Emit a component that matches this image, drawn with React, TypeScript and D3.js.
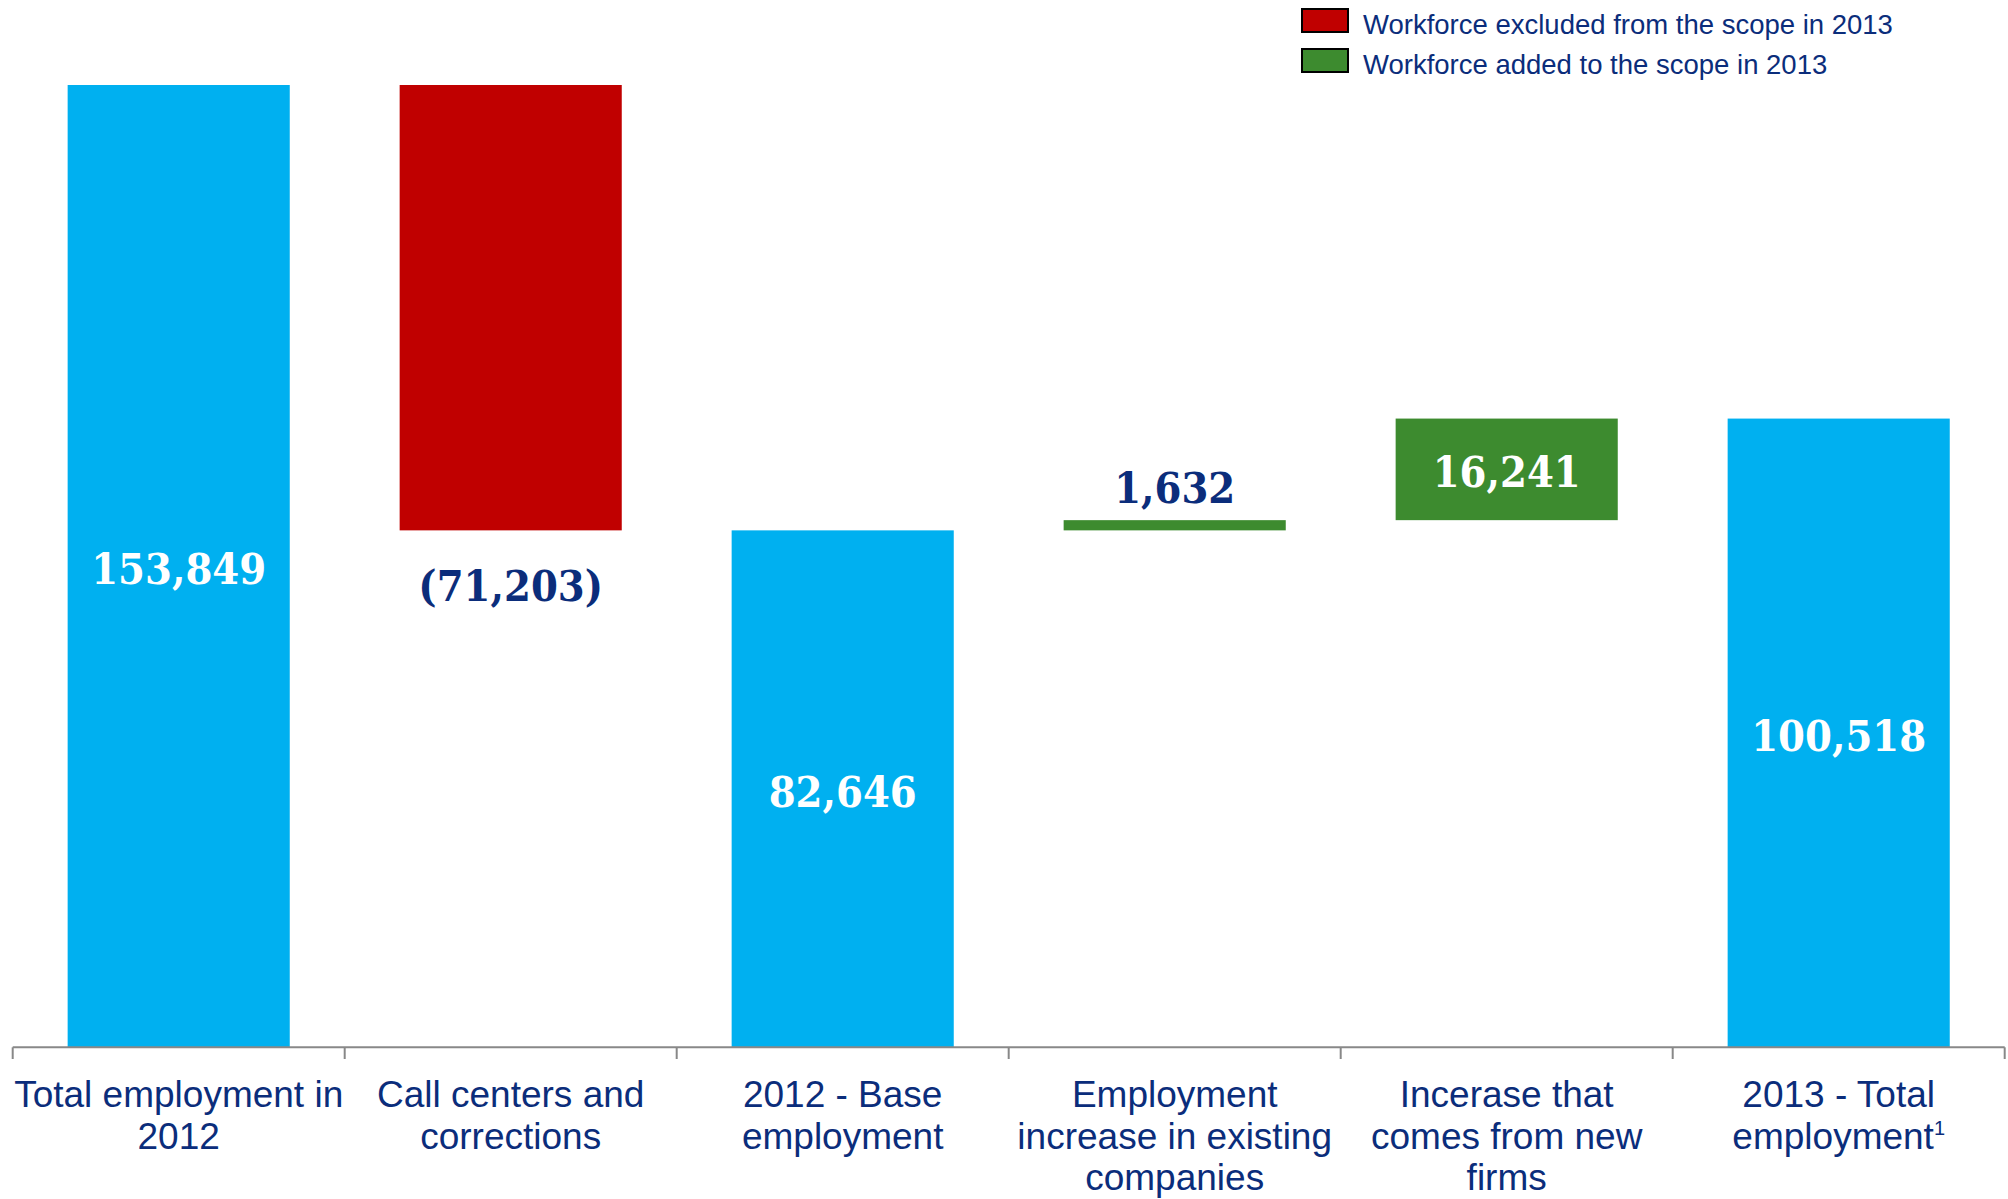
import React from 'react';
import * as d3 from 'd3';

// Waterfall data
const categories = [
  ['Total employment in', '2012'],
  ['Call centers and', 'corrections'],
  ['2012 - Base', 'employment'],
  ['Employment', 'increase in existing', 'companies'],
  ['Incerase that', 'comes from new', 'firms'],
  ['2013 - Total', 'employment'],
];
const values = [153849, -71203, 82646, 1632, 16241, 100518];
const kinds = ['total', 'delta', 'total', 'delta', 'delta', 'total'];
const valueLabels = ['153,849', '(71,203)', '82,646', '1,632', '16,241', '100,518'];
const legendItems = [
  { label: 'Workforce excluded from the scope in 2013', color: '#C00000' },
  { label: 'Workforce added to the scope in 2013', color: '#3D8B2F' },
];

const W = 2008;
const H = 1199;
const BLUE = '#00B0F0';
const RED = '#C00000';
const GREEN = '#3D8B2F';
const NAVY = '#0B2D7B';
const AXIS = '#888888';
const numFont = "'DejaVu Serif Condensed', 'DejaVu Serif', serif";
const sansFont = "'Liberation Sans', Arial, sans-serif";

const App: React.FC = () => {
  const x = d3.scaleBand<number>()
    .domain(d3.range(categories.length))
    .range([12.7, 2004.7])
    .paddingInner(0.331)
    .paddingOuter(0.1655);

  const y = d3.scaleLinear()
    .domain([0, 153849])
    .range([1047.3, 85]);

  // running totals for the waterfall
  let run = 0;
  const bars = values.map((v, i) => {
    let lo: number, hi: number;
    if (kinds[i] === 'total') {
      lo = 0;
      hi = v;
      run = v;
    } else {
      lo = Math.min(run, run + v);
      hi = Math.max(run, run + v);
      run += v;
    }
    const color = kinds[i] === 'total' ? BLUE : v < 0 ? RED : GREEN;
    return { i, lo, hi, v, color };
  });

  const step = x.step();
  const ticks = d3.range(categories.length + 1).map(k => 12.7 + k * step);

  return (
    <svg width={W} height={H} style={{ position: 'absolute', left: 0, top: 0, background: '#fff' }}>
      {bars.map(b => (
        <rect
          key={b.i}
          x={x(b.i)}
          y={y(b.hi)}
          width={x.bandwidth()}
          height={y(b.lo) - y(b.hi)}
          fill={b.color}
        />
      ))}

      {bars.map(b => {
        const cx = (x(b.i) || 0) + x.bandwidth() / 2;
        const h = y(b.lo) - y(b.hi);
        let ty: number, fill: string;
        if (h > 60) {
          if (b.v < 0) {
            ty = y(b.lo) + 71;
            fill = NAVY;
          } else {
            ty = (y(b.lo) + y(b.hi)) / 2 + 18;
            fill = '#fff';
          }
        } else {
          ty = y(b.hi) - 17;
          fill = NAVY;
        }
        return (
          <text
            key={'l' + b.i}
            x={cx}
            y={ty}
            textAnchor="middle"
            fill={fill}
            fontFamily={numFont}
            fontStretch="condensed"
            fontWeight="bold"
            fontSize={43}
          >
            {valueLabels[b.i]}
          </text>
        );
      })}

      {/* axis */}
      <line x1={12.7} x2={2004.7} y1={1047.3} y2={1047.3} stroke={AXIS} strokeWidth={2} />
      {ticks.map((t, k) => (
        <line key={'t' + k} x1={t} x2={t} y1={1047.3} y2={1059} stroke={AXIS} strokeWidth={2} />
      ))}

      {categories.map((lines, i) => {
        const cx = (x(i) || 0) + x.bandwidth() / 2;
        return (
          <text key={'c' + i} textAnchor="middle" fill={NAVY} fontFamily={sansFont} fontSize={37}>
            {lines.map((ln, j) => (
              <tspan key={j} x={cx} y={1107 + j * 41.5}>
                {ln}
                {i === categories.length - 1 && j === lines.length - 1 ? (
                  <tspan fontSize={20} dy={-14}>1</tspan>
                ) : null}
              </tspan>
            ))}
          </text>
        );
      })}

      {/* legend */}
      {legendItems.map((d, i) => (
        <g key={'lg' + i} transform={`translate(1302, ${9 + i * 40})`}>
          <rect width={46} height={23} fill={d.color} stroke="#000" strokeWidth={2} />
          <text x={61} y={25} fill={NAVY} fontFamily={sansFont} fontSize={27.5}>
            {d.label}
          </text>
        </g>
      ))}
    </svg>
  );
};

export default App;
